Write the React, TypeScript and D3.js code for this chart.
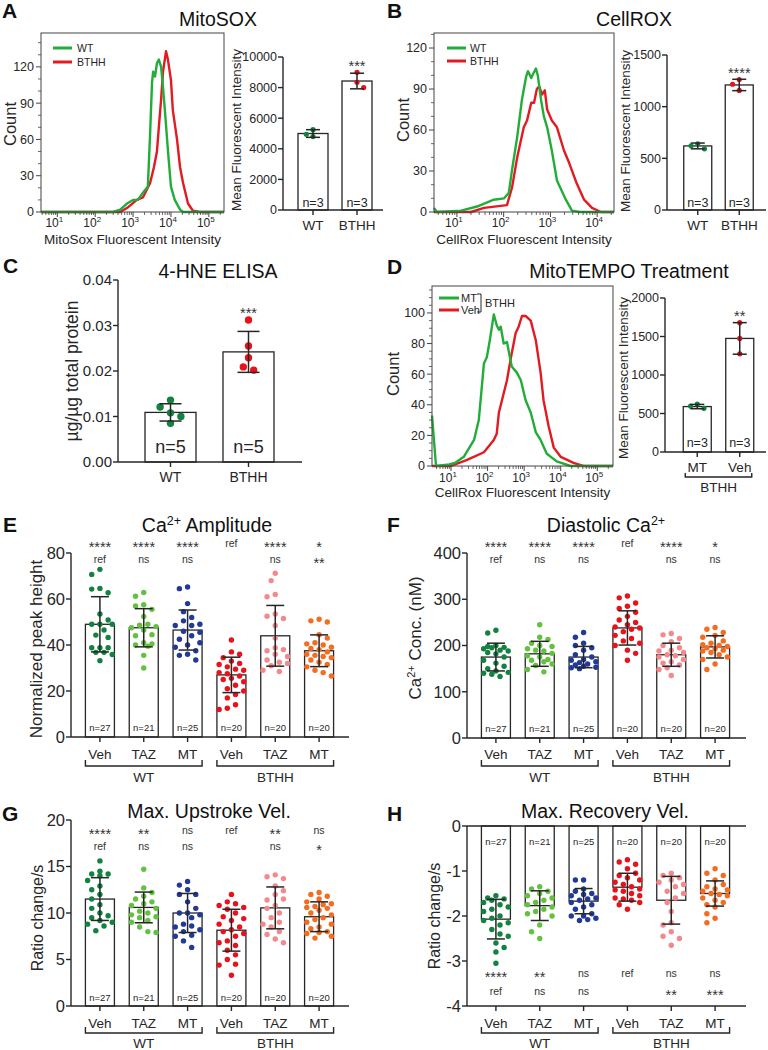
import React from "react";
import * as d3 from "d3";

type Pt = [number, number];

const FONT = "'Liberation Sans', Arial, Helvetica, sans-serif";
const INK = "#262626";
const GREEN = "#22ad3a";
const RED = "#e21b22";
const groupColors = ["#11823f", "#63c13f", "#213a95", "#e8121b", "#f3898c", "#f36c22"];

// ---------- Panel A: MitoSOX histogram [log10 intensity, count] ----------
const mitoSoxWT: Pt[] = [[0.57, 0], [2.47, 0], [2.66, 2], [2.84, 7], [3.0, 10], [3.13, 10], [3.26, 16], [3.39, 21], [3.45, 65], [3.5, 107], [3.53, 116], [3.58, 112], [3.63, 123], [3.68, 126], [3.74, 120], [3.79, 103], [3.84, 84], [3.92, 51], [4.0, 21], [4.1, 10], [4.24, 2], [4.32, 0], [5.4, 0]];
const mitoSoxBTHH: Pt[] = [[0.57, 0], [2.66, 0], [2.87, 4], [3.1, 10], [3.26, 12], [3.45, 24], [3.55, 37], [3.63, 50], [3.68, 70], [3.74, 93], [3.79, 116], [3.87, 133], [3.92, 126], [4.0, 109], [4.05, 84], [4.16, 60], [4.24, 37], [4.32, 24], [4.45, 7], [4.58, 1], [4.76, 0], [5.4, 0]];
const mitoSoxGroups = ["WT", "BTHH"];
const mitoSoxMean = [5000, 8430];
const mitoSoxSD = [250, 510];
const mitoSoxPts = [[5250, 4950, 4800], [9000, 8350, 8000]];
const mitoSoxN = ["n=3", "n=3"];

// ---------- Panel B: CellROX ----------
const cellRoxWT: Pt[] = [[0.51, 3], [0.57, 0], [1.09, 1], [1.43, 4], [1.79, 9], [2.01, 10], [2.11, 14], [2.18, 31], [2.29, 55], [2.39, 82], [2.48, 99], [2.52, 103], [2.59, 98], [2.63, 101], [2.69, 105], [2.73, 100], [2.8, 82], [2.86, 70], [2.93, 62], [3.03, 45], [3.14, 23], [3.33, 9], [3.46, 1], [3.63, 0], [4.36, 0]];
const cellRoxBTHH: Pt[] = [[0.51, 0], [1.3, 0], [1.58, 3], [2.07, 5], [2.18, 18], [2.29, 40], [2.43, 62], [2.5, 67], [2.59, 80], [2.65, 80], [2.71, 90], [2.76, 92], [2.82, 86], [2.88, 89], [2.93, 75], [3.03, 67], [3.14, 62], [3.29, 45], [3.4, 36], [3.55, 22], [3.72, 9], [3.89, 3], [4.08, 0], [4.36, 0]];
const cellRoxGroups = ["WT", "BTHH"];
const cellRoxMean = [620, 1210];
const cellRoxSD = [28, 55];
const cellRoxPts = [[640, 622, 592], [1263, 1217, 1157]];
const cellRoxN = ["n=3", "n=3"];

// ---------- Panel C: 4-HNE ELISA ----------
const hneGroups = ["WT", "BTHH"];
const hneMean = [0.0109, 0.0242];
const hneSD = [0.0019, 0.0045];
const hnePts = [[0.0136, 0.0121, 0.0108, 0.01, 0.0085], [0.0312, 0.0255, 0.0229, 0.0209, 0.0202]];
const hneN = ["n=5", "n=5"];

// ---------- Panel D: MitoTEMPO ----------
const tempoMT: Pt[] = [[0.48, 33], [0.59, 0], [0.95, 1], [1.11, 2], [1.35, 6], [1.63, 17], [1.76, 30], [1.9, 67], [1.98, 71], [2.06, 82], [2.17, 99], [2.25, 92], [2.31, 89], [2.36, 91], [2.44, 80], [2.53, 81], [2.66, 65], [2.8, 61], [2.91, 56], [3.04, 43], [3.18, 35], [3.32, 22], [3.45, 17], [3.62, 8], [3.89, 3], [4.27, 0], [5.43, 0]];
const tempoVeh: Pt[] = [[0.48, 0], [1.0, 0], [1.44, 4], [1.9, 9], [2.17, 17], [2.25, 21], [2.31, 35], [2.53, 56], [2.64, 71], [2.77, 87], [2.85, 91], [2.94, 98], [3.04, 98], [3.18, 95], [3.32, 82], [3.45, 61], [3.53, 43], [3.67, 26], [3.81, 12], [4.0, 6], [4.35, 2], [4.62, 0], [5.43, 0]];
const tempoGroups = ["MT", "Veh"];
const tempoMean = [590, 1475];
const tempoSD = [28, 205];
const tempoPts = [[623, 597, 567], [1680, 1475, 1275]];
const tempoN = ["n=3", "n=3"];

// ---------- Panels E-H: shared categories ----------
const treatments = ["Veh", "TAZ", "MT", "Veh", "TAZ", "MT"];
const genotypes = ["WT", "BTHH"];
const cellN = ["n=27", "n=21", "n=25", "n=20", "n=20", "n=20"];

// E: Ca2+ amplitude
const ampMean = [49, 47.5, 46.5, 27, 44, 37.5];
const ampSD = [12, 8.3, 8.7, 7.7, 13.2, 6.9];
const ampPts = [
  [72.9, 70.7, 64.6, 64.3, 62.7, 53.5, 50.9, 49.0, 49.0, 49.0, 46.5, 44.3, 43.3, 38.8, 38.8, 38.8, 36.8, 36.8, 35.9, 33.2],
  [62.8, 61.2, 57.5, 57.0, 55.5, 52.4, 49.0, 48.6, 48.0, 47.5, 46.5, 44.5, 44.0, 41.0, 40.5, 40.0, 39.5, 35.5, 30.0],
  [65.2, 64.5, 58.0, 54.5, 52.0, 50.5, 49.0, 48.5, 48.5, 46.0, 45.5, 44.0, 42.5, 41.0, 40.0, 39.0, 37.5, 36.0, 35.5, 33.5],
  [42.2, 37.0, 36.0, 34.5, 33.0, 32.0, 31.5, 30.5, 29.5, 29.0, 28.0, 27.5, 26.5, 25.5, 25.0, 24.0, 22.5, 21.0, 20.0, 18.5, 17.0, 14.0, 12.5, 12.0],
  [71.2, 68.0, 62.0, 61.0, 53.5, 52.5, 51.5, 48.5, 43.0, 38.8, 38.0, 37.5, 36.0, 35.0, 33.5, 32.5, 32.0, 31.0, 29.0, 28.5],
  [51.2, 50.5, 50.0, 44.5, 43.0, 41.0, 40.5, 40.0, 39.0, 38.5, 38.0, 37.0, 36.0, 35.5, 35.0, 34.5, 33.5, 32.5, 31.5, 30.5, 29.0, 28.0, 26.5],
];
const ampStars1 = ["****", "****", "****", "ref", "****", "*"];
const ampStars2 = ["ref", "ns", "ns", "", "ns", "**"];

// F: diastolic Ca2+
const diaMean = [175, 182, 175, 238, 180, 197];
const diaSD = [30, 27, 23, 37, 25, 24];
const diaPts = [
  [233, 227, 200, 198, 196, 195, 193, 190, 188, 185, 182, 175, 168, 162, 155, 150, 145, 142, 140, 138, 133],
  [245, 218, 213, 205, 200, 198, 193, 190, 188, 183, 178, 175, 170, 168, 165, 160, 157, 148, 143],
  [228, 218, 205, 200, 195, 190, 180, 175, 170, 168, 165, 163, 160, 158, 155, 153, 152, 150],
  [307, 303, 292, 285, 280, 272, 263, 255, 250, 245, 240, 238, 235, 230, 222, 215, 210, 205, 200, 190, 183, 168],
  [226, 223, 215, 208, 200, 195, 190, 188, 185, 180, 178, 175, 170, 165, 162, 158, 152, 148, 135],
  [239, 235, 228, 222, 218, 210, 205, 202, 200, 198, 195, 193, 190, 188, 185, 180, 175, 170, 160, 148],
];
const diaStars1 = ["****", "****", "****", "ref", "****", "*"];
const diaStars2 = ["ref", "ns", "ns", "", "ns", "ns"];

// G: max upstroke velocity
const upMean = [11.5, 10.6, 10.0, 8.15, 10.55, 9.6];
const upSD = [2.3, 1.65, 2.1, 2.25, 2.25, 1.6];
const upPts = [
  [15.6, 14.5, 14.2, 14.2, 14.0, 13.5, 12.9, 12.5, 12.0, 11.5, 10.9, 10.5, 10.0, 9.7, 9.5, 9.2, 9.0, 8.8, 8.6, 8.1],
  [14.7, 12.7, 12.2, 11.8, 11.5, 11.2, 11.0, 10.8, 10.5, 10.2, 10.0, 9.8, 9.6, 9.5, 9.2, 9.0, 8.5, 8.0, 7.9],
  [13.4, 13.0, 12.5, 12.0, 12.0, 11.2, 10.5, 10.0, 10.0, 9.8, 9.5, 8.8, 8.6, 8.5, 8.2, 8.0, 7.6, 7.5, 7.0, 6.3],
  [12.0, 11.2, 11.0, 10.8, 10.6, 10.4, 10.0, 9.6, 9.4, 9.2, 8.8, 8.5, 8.2, 8.0, 7.8, 7.5, 7.0, 6.8, 6.5, 6.0, 5.5, 5.0, 4.5, 4.4, 3.3],
  [14.1, 13.9, 13.7, 12.9, 12.4, 12.0, 11.5, 11.4, 10.8, 10.5, 10.0, 9.5, 9.0, 8.8, 8.5, 8.0, 7.7, 7.2, 6.8],
  [12.2, 12.0, 11.8, 11.5, 11.2, 11.0, 10.9, 10.7, 10.6, 10.5, 10.3, 10.0, 9.8, 9.5, 9.3, 9.0, 8.8, 8.5, 8.3, 8.0, 7.9, 7.8, 7.5, 7.3],
];
const upStars1 = ["****", "**", "ns", "ref", "**", "ns"];
const upStars2 = ["ref", "ns", "ns", "", "ns", "*"];

// H: max recovery velocity
const recMean = [-2.07, -1.77, -1.67, -1.36, -1.65, -1.5];
const recSD = [0.44, 0.33, 0.28, 0.31, 0.53, 0.28];
const recPts = [
  [-1.55, -1.6, -1.62, -1.65, -1.7, -1.75, -1.8, -1.85, -1.9, -2.0, -2.05, -2.1, -2.15, -2.2, -2.3, -2.4, -2.45, -2.6, -2.7, -2.8, -3.05],
  [-1.35, -1.4, -1.45, -1.5, -1.55, -1.6, -1.65, -1.7, -1.75, -1.8, -1.85, -1.9, -1.95, -2.0, -2.2, -2.35, -2.5],
  [-1.2, -1.2, -1.4, -1.45, -1.5, -1.52, -1.55, -1.6, -1.62, -1.65, -1.7, -1.75, -1.8, -1.85, -1.95, -2.0, -2.0, -2.05, -2.08, -2.1],
  [-0.75, -0.8, -0.85, -0.95, -1.05, -1.1, -1.15, -1.2, -1.25, -1.3, -1.35, -1.4, -1.42, -1.45, -1.5, -1.55, -1.6, -1.62, -1.65, -1.7, -1.75, -1.85],
  [-1.05, -1.1, -1.15, -1.2, -1.25, -1.3, -1.35, -1.45, -1.5, -1.6, -1.7, -1.9, -2.15, -2.2, -2.35, -2.45, -2.5, -2.65],
  [-0.95, -1.05, -1.1, -1.2, -1.3, -1.35, -1.4, -1.42, -1.45, -1.5, -1.52, -1.55, -1.6, -1.65, -1.7, -1.75, -1.8, -1.95, -2.05, -2.15],
];
const recStars1 = ["****", "**", "ns", "ref", "ns", "ns"];
const recStars2 = ["ref", "ns", "ns", "", "**", "***"];

// ---------- helpers ----------
function swarm(ys: number[], diam: number, maxOff: number): number[] {
  const idx = ys.map((_, i) => i).sort((a, b) => ys[a] - ys[b]);
  const placed: { x: number; y: number }[] = [];
  const out = ys.map(() => 0);
  let flip = 1;
  const step = diam / 2;
  idx.forEach((i) => {
    const y = ys[i];
    let chosen = 0;
    let best = -Infinity;
    for (let k = 0; k < 40; k++) {
      const off = k === 0 ? 0 : (k % 2 === 1 ? flip : -flip) * Math.ceil(k / 2) * step;
      if (Math.abs(off) > maxOff) continue;
      let minD = Infinity;
      placed.forEach((q) => {
        const d = Math.hypot(q.x - off, q.y - y);
        if (d < minD) minD = d;
      });
      if (minD >= diam) {
        chosen = off;
        break;
      }
      if (minD > best) {
        best = minD;
        chosen = off;
      }
    }
    flip = -flip;
    placed.push({ x: chosen, y });
    out[i] = chosen;
  });
  return out;
}

function Hist(p: {
  left: number; top: number; right: number; bottom: number;
  logMin: number; logMax: number; yMax: number; yMajor: number[]; yMinorStep: number;
  decades: number[]; series: { data: Pt[]; color: string }[];
  tickBase: number; xLabel: string; xLabelBase: number;
}) {
  const x = d3.scaleLog().domain([Math.pow(10, p.logMin), Math.pow(10, p.logMax)]).range([p.left, p.right]);
  const y = d3.scaleLinear().domain([0, p.yMax]).range([p.bottom, p.top]);
  const line = d3.line<Pt>().x((d) => x(Math.pow(10, d[0]))).y((d) => y(d[1]));
  const minorX: number[] = [];
  for (let k = Math.floor(p.logMin); k <= Math.ceil(p.logMax); k++) {
    for (let m = 2; m <= 9; m++) {
      const v = m * Math.pow(10, k);
      const lv = Math.log10(v);
      if (lv >= p.logMin && lv <= p.logMax) minorX.push(v);
    }
  }
  const minorY = d3.range(0, p.yMax, p.yMinorStep).filter((v) => !p.yMajor.includes(v));
  return (
    <g>
      {p.series.map((s, i) => (
        <path key={i} d={line(s.data) || ""} fill="none" stroke={s.color} strokeWidth={2.4} strokeLinejoin="round" />
      ))}
      <rect x={p.left} y={p.top} width={p.right - p.left} height={p.bottom - p.top} fill="none" stroke="#444" strokeWidth={1} />
      {minorY.map((v) => (
        <line key={"my" + v} x1={p.left - 3} x2={p.left} y1={y(v)} y2={y(v)} stroke="#444" strokeWidth={0.8} />
      ))}
      {p.yMajor.map((v) => (
        <g key={"y" + v}>
          <line x1={p.left - 5} x2={p.left} y1={y(v)} y2={y(v)} stroke="#444" strokeWidth={1} />
          <text x={p.left - 7} y={y(v)} dy="0.35em" textAnchor="end" fontSize={12.5} fill={INK}>{v}</text>
        </g>
      ))}
      {minorX.map((v, i) => (
        <line key={"mx" + i} x1={x(v)} x2={x(v)} y1={p.bottom} y2={p.bottom + 3} stroke="#444" strokeWidth={0.8} />
      ))}
      {p.decades.map((k) => (
        <g key={"x" + k}>
          <line x1={x(Math.pow(10, k))} x2={x(Math.pow(10, k))} y1={p.bottom} y2={p.bottom + 5} stroke="#444" strokeWidth={1} />
          <text x={x(Math.pow(10, k)) - 3} y={p.tickBase} textAnchor="middle" fontSize={12} fill={INK}>
            10<tspan dy={-5} fontSize={8}>{k}</tspan>
          </text>
        </g>
      ))}
      <text x={(p.left + p.right) / 2} y={p.xLabelBase} textAnchor="middle" fontSize={13.5} fill={INK}>{p.xLabel}</text>
    </g>
  );
}

function BarDot(p: {
  x: d3.ScalePoint<number>; y: d3.ScaleLinear<number, number>;
  axisX: number; xEnd: number; yTicks: number[]; fmt: (v: number) => string; tickFont: number;
  barW: number; means: number[]; sds: number[]; pts: number[][]; colors: string[]; r: number; cap: number; gap: number;
  nLabels: string[]; nBase: number; nFont: number; zeroLine?: boolean;
}) {
  const [yb, yt] = p.y.range();
  const y0 = p.y(0);
  return (
    <g>
      {p.means.map((m, i) => {
        const cx = p.x(i) as number;
        const ym = p.y(m);
        return <rect key={"b" + i} x={cx - p.barW / 2} y={Math.min(y0, ym)} width={p.barW} height={Math.abs(ym - y0)} fill="#fff" stroke={INK} strokeWidth={1.3} />;
      })}
      {p.nLabels.map((t, i) => (
        <text key={"n" + i} x={p.x(i) as number} y={p.nBase} textAnchor="middle" fontSize={p.nFont} fill={INK}>{t}</text>
      ))}
      {p.pts.map((vals, i) => {
        const cx = p.x(i) as number;
        const ys = vals.map((v) => p.y(v));
        const offs = swarm(ys, 2 * p.r + p.gap, p.barW / 2 - p.r + 1);
        return (
          <g key={"d" + i}>
            {ys.map((yy, j) => (
              <circle key={j} cx={cx + offs[j]} cy={yy} r={p.r} fill={p.colors[i]} />
            ))}
          </g>
        );
      })}
      {p.means.map((m, i) => {
        const cx = p.x(i) as number;
        const a = p.y(m + p.sds[i]);
        const b = p.y(m - p.sds[i]);
        return (
          <g key={"e" + i} stroke={INK} strokeWidth={1.5}>
            <line x1={cx} x2={cx} y1={a} y2={b} />
            <line x1={cx - p.cap} x2={cx + p.cap} y1={a} y2={a} />
            <line x1={cx - p.cap} x2={cx + p.cap} y1={b} y2={b} />
          </g>
        );
      })}
      <line x1={p.axisX} x2={p.axisX} y1={yb} y2={yt} stroke={INK} strokeWidth={1.4} />
      {p.yTicks.map((v) => (
        <g key={"t" + v}>
          <line x1={p.axisX - 5} x2={p.axisX} y1={p.y(v)} y2={p.y(v)} stroke={INK} strokeWidth={1.4} />
          <text x={p.axisX - 6} y={p.y(v)} dy="0.35em" textAnchor="end" fontSize={p.tickFont} fill={INK}>{p.fmt(v)}</text>
        </g>
      ))}
      <line x1={p.axisX} x2={p.xEnd} y1={yb} y2={yb} stroke={INK} strokeWidth={1.4} />
      {p.zeroLine && <line x1={p.axisX} x2={p.xEnd} y1={y0} y2={y0} stroke={INK} strokeWidth={1.4} />}
      {p.means.map((_, i) => (
        <line key={"xt" + i} x1={p.x(i) as number} x2={p.x(i) as number} y1={yb} y2={yb + 5} stroke={INK} strokeWidth={1.4} />
      ))}
    </g>
  );
}

function Stats(p: { x: d3.ScalePoint<number>; rows: { labels: string[]; cy: number }[] }) {
  return (
    <g>
      {p.rows.map((row, ri) =>
        row.labels.map((t, i) => {
          if (!t) return null;
          const star = t.includes("*");
          return (
            <text key={ri + "-" + i} x={p.x(i) as number} y={row.cy + (star ? 8.5 : 3.5)} textAnchor="middle" fontSize={star ? 14.5 : 10.5} fill="#333">{t}</text>
          );
        })
      )}
    </g>
  );
}

function GroupAxis(p: {
  x: d3.ScalePoint<number>; labels: string[]; base: number; font: number; half: number;
  groups: { from: number; to: number; label: string }[]; by: number; gBase: number; tick: number;
}) {
  return (
    <g>
      {p.labels.map((t, i) => (
        <text key={"l" + i} x={p.x(i) as number} y={p.base} textAnchor="middle" fontSize={p.font} fill={INK}>{t}</text>
      ))}
      {p.groups.map((g, i) => {
        const x1 = (p.x(g.from) as number) - p.half;
        const x2 = (p.x(g.to) as number) + p.half;
        return (
          <g key={"g" + i}>
            <path d={`M${x1},${p.by - p.tick}V${p.by}H${x2}V${p.by - p.tick}`} fill="none" stroke={INK} strokeWidth={1.4} />
            <text x={(x1 + x2) / 2} y={p.gBase} textAnchor="middle" fontSize={p.font} fill={INK}>{g.label}</text>
          </g>
        );
      })}
    </g>
  );
}

function VLabel(p: { x: number; y: number; size: number; children: React.ReactNode }) {
  return (
    <text transform={`translate(${p.x},${p.y}) rotate(-90)`} textAnchor="middle" dy="0.35em" fontSize={p.size} fill={INK}>{p.children}</text>
  );
}

function Letter(p: { x: number; y: number; t: string }) {
  return <text x={p.x} y={p.y} fontSize={21} fontWeight="bold" fill="#111">{p.t}</text>;
}

function Title(p: { x: number; y: number; children: React.ReactNode }) {
  return <text x={p.x} y={p.y} textAnchor="middle" fontSize={19.5} fill="#111">{p.children}</text>;
}

export default function App() {
  const two = [0, 1];
  const six = [0, 1, 2, 3, 4, 5];
  const xA = d3.scalePoint<number>().domain(two).range([291, 379]).padding(0.5);
  const xB = d3.scalePoint<number>().domain(two).range([677, 760]).padding(0.5);
  const xC = d3.scalePoint<number>().domain(two).range([131.5, 287.5]).padding(0.5);
  const xD = d3.scalePoint<number>().domain(two).range([676, 761]).padding(0.5);
  const xL = d3.scalePoint<number>().domain(six).range([78, 341]).padding(0.5);
  const xR = d3.scalePoint<number>().domain(six).range([474, 737]).padding(0.5);

  const yA = d3.scaleLinear().domain([0, 10000]).range([210, 57]);
  const yB = d3.scaleLinear().domain([0, 1500]).range([210, 55]);
  const yC = d3.scaleLinear().domain([0, 0.04]).range([462, 280]);
  const yD = d3.scaleLinear().domain([0, 2000]).range([452, 298]);
  const yE = d3.scaleLinear().domain([0, 80]).range([737, 553]);
  const yF = d3.scaleLinear().domain([0, 400]).range([738, 553]);
  const yG = d3.scaleLinear().domain([0, 20]).range([1006, 820]);
  const yH = d3.scaleLinear().domain([-4, 0]).range([1006, 826]);

  const intFmt = (v: number) => String(v);
  const grp = [{ from: 0, to: 2, label: genotypes[0] }, { from: 3, to: 5, label: genotypes[1] }];

  return (
    <svg width={768} height={1050} style={{ position: "absolute", left: 0, top: 0, display: "block" }} fontFamily={FONT}>
      <rect width={768} height={1050} fill="#fff" />

      {/* ---------- A ---------- */}
      <Letter x={2} y={18} t="A" />
      <Title x={218} y={26}>MitoSOX</Title>
      <Hist left={41} top={33} right={224} bottom={212} logMin={0.57} logMax={5.4} yMax={148}
        yMajor={[0, 30, 60, 90, 120]} yMinorStep={10} decades={[1, 2, 3, 4, 5]}
        series={[{ data: mitoSoxBTHH, color: RED }, { data: mitoSoxWT, color: GREEN }]}
        tickBase={227} xLabel="MitoSox Fluorescent Intensity" xLabelBase={244} />
      <line x1={53} x2={72} y1={48} y2={48} stroke={GREEN} strokeWidth={3} />
      <text x={77} y={52} fontSize={10.5} fill={INK}>WT</text>
      <line x1={53} x2={72} y1={62} y2={62} stroke={RED} strokeWidth={3} />
      <text x={77} y={66} fontSize={10.5} fill={INK}>BTHH</text>
      <VLabel x={10} y={124} size={16.5}>Count</VLabel>

      <BarDot x={xA} y={yA} axisX={283} xEnd={383} yTicks={[0, 2000, 4000, 6000, 8000, 10000]} fmt={intFmt} tickFont={12.5}
        barW={30} means={mitoSoxMean} sds={mitoSoxSD} pts={mitoSoxPts} colors={[groupColors[0], groupColors[3]]} r={2.6} cap={7} gap={1.5}
        nLabels={mitoSoxN} nBase={207} nFont={12.5} />
      {mitoSoxGroups.map((g, i) => (
        <text key={g} x={xA(i) as number} y={230} textAnchor="middle" fontSize={13.5} fill={INK}>{g}</text>
      ))}
      <Stats x={xA} rows={[{ labels: ["", "***"], cy: 62 }]} />
      <VLabel x={236} y={130} size={13.5}>Mean Fluorescent Intensity</VLabel>

      {/* ---------- B ---------- */}
      <Letter x={387} y={18} t="B" />
      <Title x={634} y={26}>CellROX</Title>
      <Hist left={434} top={33} right={614} bottom={212} logMin={0.51} logMax={4.36} yMax={131}
        yMajor={[0, 30, 60, 90, 120]} yMinorStep={10} decades={[1, 2, 3, 4]}
        series={[{ data: cellRoxBTHH, color: RED }, { data: cellRoxWT, color: GREEN }]}
        tickBase={227} xLabel="CellRox Fluorescent Intensity" xLabelBase={244} />
      <line x1={447} x2={466} y1={48} y2={48} stroke={GREEN} strokeWidth={3} />
      <text x={470} y={52} fontSize={10.5} fill={INK}>WT</text>
      <line x1={447} x2={466} y1={61} y2={61} stroke={RED} strokeWidth={3} />
      <text x={470} y={65} fontSize={10.5} fill={INK}>BTHH</text>
      <VLabel x={403} y={120} size={16.5}>Count</VLabel>

      <BarDot x={xB} y={yB} axisX={667} xEnd={766} yTicks={[0, 500, 1000, 1500]} fmt={intFmt} tickFont={12.5}
        barW={28} means={cellRoxMean} sds={cellRoxSD} pts={cellRoxPts} colors={[groupColors[0], groupColors[3]]} r={2.6} cap={7} gap={1.5}
        nLabels={cellRoxN} nBase={207} nFont={12.5} />
      {cellRoxGroups.map((g, i) => (
        <text key={g} x={xB(i) as number} y={230} textAnchor="middle" fontSize={13.5} fill={INK}>{g}</text>
      ))}
      <Stats x={xB} rows={[{ labels: ["", "****"], cy: 69 }]} />
      <VLabel x={625} y={131} size={13.5}>Mean Fluorescent Intensity</VLabel>

      {/* ---------- C ---------- */}
      <Letter x={3} y={273} t="C" />
      <Title x={218} y={278}>4-HNE ELISA</Title>
      <BarDot x={xC} y={yC} axisX={118} xEnd={302} yTicks={[0, 0.01, 0.02, 0.03, 0.04]} fmt={(v) => v.toFixed(2)} tickFont={15}
        barW={51} means={hneMean} sds={hneSD} pts={hnePts} colors={[groupColors[0], groupColors[3]]} r={3.7} cap={11} gap={3}
        nLabels={hneN} nBase={453} nFont={18} />
      {hneGroups.map((g, i) => (
        <text key={g} x={xC(i) as number} y={482} textAnchor="middle" fontSize={14} fill={INK}>{g}</text>
      ))}
      <Stats x={xC} rows={[{ labels: ["", "***"], cy: 309 }]} />
      <VLabel x={72} y={371} size={17.5}>µg/µg total protein</VLabel>

      {/* ---------- D ---------- */}
      <Letter x={387} y={274} t="D" />
      <Title x={629} y={278}>MitoTEMPO Treatment</Title>
      <Hist left={432} top={286} right={613} bottom={466} logMin={0.48} logMax={5.43} yMax={117.6}
        yMajor={[0, 20, 40, 60, 80, 100]} yMinorStep={5} decades={[1, 2, 3, 4, 5]}
        series={[{ data: tempoVeh, color: RED }, { data: tempoMT, color: GREEN }]}
        tickBase={482} xLabel="CellRox Fluorescent Intensity" xLabelBase={497} />
      <line x1={439} x2={459} y1={298} y2={298} stroke={GREEN} strokeWidth={3} />
      <text x={461} y={302} fontSize={11} fill={INK}>MT</text>
      <line x1={439} x2={459} y1={310} y2={310} stroke={RED} strokeWidth={3} />
      <text x={461} y={314} fontSize={11} fill={INK}>Veh</text>
      <path d="M477,294H481V312H477" fill="none" stroke={INK} strokeWidth={1} />
      <text x={485} y={307} fontSize={11} fill={INK}>BTHH</text>
      <VLabel x={393} y={374} size={16.5}>Count</VLabel>

      <BarDot x={xD} y={yD} axisX={665} xEnd={766} yTicks={[0, 500, 1000, 1500, 2000]} fmt={intFmt} tickFont={12.5}
        barW={28} means={tempoMean} sds={tempoSD} pts={tempoPts} colors={[groupColors[0], groupColors[3]]} r={2.6} cap={7} gap={1.5}
        nLabels={tempoN} nBase={447} nFont={12.5} />
      <GroupAxis x={xD} labels={tempoGroups} base={472} font={13.5} half={12}
        groups={[{ from: 0, to: 1, label: "BTHH" }]} by={477} gBase={492} tick={4} />
      <Stats x={xD} rows={[{ labels: ["", "**"], cy: 312 }]} />
      <VLabel x={623} y={378} size={13.5}>Mean Fluorescent Intensity</VLabel>

      {/* ---------- E ---------- */}
      <Letter x={3} y={532} t="E" />
      <Title x={207} y={532}>Ca<tspan dy={-7} fontSize={12.5}>2+</tspan><tspan dy={7}> Amplitude</tspan></Title>
      <BarDot x={xL} y={yE} axisX={71} xEnd={349} yTicks={[0, 20, 40, 60, 80]} fmt={intFmt} tickFont={16.5}
        barW={29} means={ampMean} sds={ampSD} pts={ampPts} colors={groupColors} r={2.7} cap={9} gap={2.8}
        nLabels={cellN} nBase={731} nFont={9.5} />
      <Stats x={xL} rows={[{ labels: ampStars1, cy: 543 }, { labels: ampStars2, cy: 559 }]} />
      <GroupAxis x={xL} labels={treatments} base={759} font={13.5} half={14.5} groups={grp} by={766} gBase={782} tick={6} />
      <VLabel x={36} y={649} size={17}>Normalized peak height</VLabel>

      {/* ---------- F ---------- */}
      <Letter x={387} y={532} t="F" />
      <Title x={606} y={532}>Diastolic Ca<tspan dy={-7} fontSize={12.5}>2+</tspan></Title>
      <BarDot x={xR} y={yF} axisX={467} xEnd={746} yTicks={[0, 100, 200, 300, 400]} fmt={intFmt} tickFont={16.5}
        barW={29} means={diaMean} sds={diaSD} pts={diaPts} colors={groupColors} r={2.7} cap={9} gap={2.8}
        nLabels={cellN} nBase={732} nFont={9.5} />
      <Stats x={xR} rows={[{ labels: diaStars1, cy: 543 }, { labels: diaStars2, cy: 559 }]} />
      <GroupAxis x={xR} labels={treatments} base={759} font={13.5} half={14.5} groups={grp} by={766} gBase={782} tick={6} />
      <VLabel x={415} y={638} size={17}>Ca<tspan dy={-6} fontSize={11}>2+</tspan><tspan dy={6}> Conc. (nM)</tspan></VLabel>

      {/* ---------- G ---------- */}
      <Letter x={2} y={821} t="G" />
      <Title x={209} y={818}>Max. Upstroke Vel.</Title>
      <BarDot x={xL} y={yG} axisX={71} xEnd={349} yTicks={[0, 5, 10, 15, 20]} fmt={intFmt} tickFont={16.5}
        barW={29} means={upMean} sds={upSD} pts={upPts} colors={groupColors} r={2.7} cap={9} gap={2.8}
        nLabels={cellN} nBase={1001} nFont={9.5} />
      <Stats x={xL} rows={[{ labels: upStars1, cy: 830 }, { labels: upStars2, cy: 846 }]} />
      <GroupAxis x={xL} labels={treatments} base={1028} font={13.5} half={14.5} groups={grp} by={1033} gBase={1048} tick={6} />
      <VLabel x={37} y={918} size={16}>Ratio change/s</VLabel>

      {/* ---------- H ---------- */}
      <Letter x={387} y={821} t="H" />
      <Title x={605} y={818}>Max. Recovery Vel.</Title>
      <BarDot x={xR} y={yH} axisX={467} xEnd={746} yTicks={[-4, -3, -2, -1, 0]} fmt={intFmt} tickFont={16.5}
        barW={29} means={recMean} sds={recSD} pts={recPts} colors={groupColors} r={2.7} cap={9} gap={2.8}
        nLabels={cellN} nBase={845} nFont={9.5} zeroLine />
      <Stats x={xR} rows={[{ labels: recStars1, cy: 973 }, { labels: recStars2, cy: 991 }]} />
      <GroupAxis x={xR} labels={treatments} base={1028} font={13.5} half={14.5} groups={grp} by={1033} gBase={1048} tick={6} />
      <VLabel x={434} y={916} size={16}>Ratio change/s</VLabel>
    </svg>
  );
}
